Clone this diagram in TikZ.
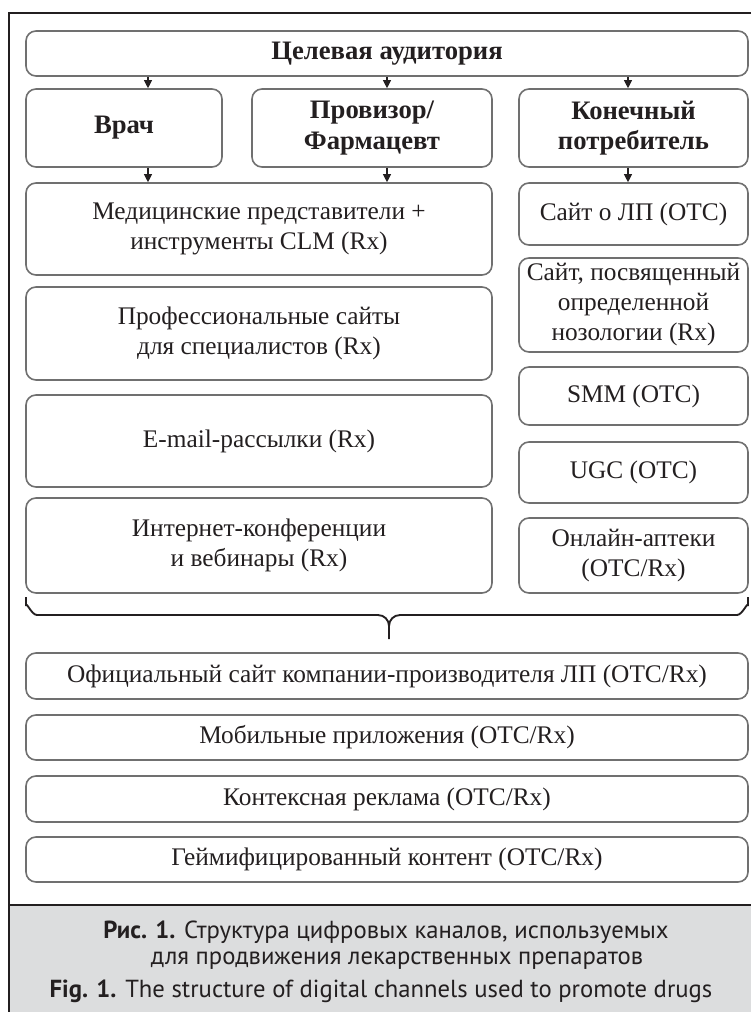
\documentclass[tikz,border=0pt]{standalone}
\usepackage{fontspec}
\setmainfont{Liberation Serif}
\newfontfamily\capfont{PT Sans}
\usetikzlibrary{fit,arrows.meta,calc}
\definecolor{boxgray}{HTML}{707070}
\definecolor{capgray}{HTML}{DCDDDE}
\definecolor{ink}{HTML}{231F20}
\tikzset{
  box/.style={draw=boxgray, line width=1.2pt, rounded corners=7.5pt, inner sep=0pt},
  lbl/.style={align=center, text=ink, inner sep=0pt, font=\fontsize{19pt}{22.5pt}\selectfont},
  hlbl/.style={lbl, font=\fontsize{20pt}{23pt}\selectfont\bfseries},
  captext/.style={text=ink, inner sep=0pt, font=\capfont\fontsize{18.5pt}{21pt}\selectfont},
  arr/.style={draw=ink, line width=0.8pt, -{Triangle[length=6pt,width=6pt]}},
  brace/.style={draw=ink, line width=1.4pt},
}
\begin{document}
\begin{tikzpicture}[x=0.75pt,y=-0.75pt]
\useasboundingbox (0,0) rectangle (751,1012);
% caption background and frame
\fill[capgray] (9,905) rectangle (751,1012);
\draw[ink, line width=0.9pt] (751,13) -- (9,13) -- (9,1012);
\draw[ink, line width=0.9pt] (9,905) -- (751,905);
% boxes
\node[box, fit={(26,31)(748,76)}] (top) {};
\node[box, fit={(26,89)(222,167)}] (vrach) {};
\node[box, fit={(252,89)(492,167)}] (prov) {};
\node[box, fit={(519,89)(748,167)}] (kon) {};
\node[box, fit={(26,183)(492,275)}] (med) {};
\node[box, fit={(26,287)(492,380)}] (prof) {};
\node[box, fit={(26,395)(492,487)}] (mail) {};
\node[box, fit={(26,498)(492,593)}] (inet) {};
\node[box, fit={(519,183)(748,245)}] (r1) {};
\node[box, fit={(519,258)(748,352)}] (r2) {};
\node[box, fit={(519,367)(748,425)}] (r3) {};
\node[box, fit={(519,442)(748,503)}] (r4) {};
\node[box, fit={(519,518)(748,593)}] (r5) {};
\node[box, fit={(26,653)(748,699)}] (b1) {};
\node[box, fit={(26,715)(748,760)}] (b2) {};
\node[box, fit={(26,776)(748,822)}] (b3) {};
\node[box, fit={(26,837)(748,882)}] (b4) {};
% labels
\node[hlbl] (ttop) at (top.center) {Целевая аудитория};
\node[hlbl] (tvrach) at (vrach.center) {Врач};
\node[hlbl] (tprov) at (prov.center) {Провизор/\\Фармацевт};
\node[hlbl] (tkon) at (kon.center) {Конечный\\потребитель};
\node[lbl] (tmed) at (med.center) {Медицинские представители +\\инструменты CLM (Rx)};
\node[lbl] (tprof) at (prof.center) {Профессиональные сайты\\для специалистов (Rx)};
\node[lbl] (tmail) at (mail.center) {E-mail-рассылки (Rx)};
\node[lbl] (tinet) at (inet.center) {Интернет-конференции\\и вебинары (Rx)};
\node[lbl] (tr1) at (r1.center) {Сайт о ЛП (OTC)};
\node[lbl] (tr2) at (r2.center) {Сайт, посвященный\\определенной\\нозологии (Rx)};
\node[lbl] (tr3) at (r3.center) {SMM (OTC)};
\node[lbl] (tr4) at (r4.center) {UGC (OTC)};
\node[lbl] (tr5) at (r5.center) {Онлайн-аптеки\\(OTC/Rx)};
\node[lbl] (tb1) at (b1.center) {Официальный сайт компании-производителя ЛП (OTC/Rx)};
\node[lbl] (tb2) at (b2.center) {Мобильные приложения (OTC/Rx)};
\node[lbl] (tb3) at (b3.center) {Контексная реклама (OTC/Rx)};
\node[lbl] (tb4) at (b4.center) {Геймифицированный контент (OTC/Rx)};
% arrow columns
\coordinate (c1) at (148,0);
\coordinate (c2) at (387,0);
\coordinate (c3) at (628,0);
\draw[arr] (top.south -| c1) -- (vrach.north -| c1);
\draw[arr] (top.south -| c2) -- (prov.north -| c2);
\draw[arr] (top.south -| c3) -- (kon.north -| c3);
\draw[arr] (vrach.south -| c1) -- (med.north -| c1);
\draw[arr] (prov.south -| c2) -- (med.north -| c2);
\draw[arr] (kon.south -| c3) -- (r1.north -| c3);
% brace
\draw[brace] (26,597) -- (26,606) to[out=90,in=180] (37,615) -- (378,615)
  to[out=0,in=90] (389,626) -- (389,639);
\draw[brace] (389,626) to[out=90,in=180] (400,615) -- (737,615) to[out=0,in=90] (748,606) -- (748,597);
% caption
\node[captext] (cap1) at (386,932) {\textbf{Рис. 1.} Структура цифровых каналов, используемых};
\node[captext] (cap2) at (397,961) {для продвижения лекарственных препаратов};
\node[captext] (cap3) at (381,991) {\textbf{Fig. 1.} The structure of digital channels used to promote drugs};
\end{tikzpicture}
\end{document}
